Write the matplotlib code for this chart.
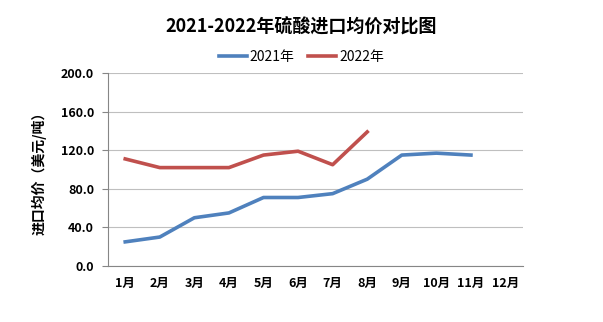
import matplotlib
matplotlib.use('Agg')
import matplotlib.pyplot as plt
import numpy as np

plt.rcParams['font.family'] = ['Noto Sans CJK SC', 'DejaVu Sans']

months = ['1月', '2月', '3月', '4月', '5月', '6月', '7月', '8月', '9月', '10月', '11月', '12月']
price_2021 = [25, 30, 50, 55, 71, 71, 75, 90, 115, 117, 115]
price_2022 = [111, 102, 102, 102, 115, 119, 105, 139]
yticks = [0, 40, 80, 120, 160, 200]

fig = plt.figure(figsize=(6.03, 3.22), dpi=100)
ax = fig.add_axes([0.179, 0.174, 0.688, 0.599])

x = np.arange(len(months))
ax.plot(x[:len(price_2021)], price_2021, color='#4f81bd', lw=2.6, label='2021年')
ax.plot(x[:len(price_2022)], price_2022, color='#c0504d', lw=2.6, label='2022年')

ax.set_xlim(-0.5, len(months) - 0.5)
ax.set_ylim(0, 200)
ax.set_xticks(x)
ax.set_xticklabels(months, fontsize=9, fontweight='bold')
ax.set_yticks(yticks)
ax.set_yticklabels(['%.1f' % v for v in yticks], fontsize=9, fontweight='bold')
ax.tick_params(axis='x', length=0, pad=8)
ax.tick_params(axis='y', length=4, color='#868686', pad=6)
ax.grid(axis='y', color='#bfbfbf', lw=0.8)
ax.set_axisbelow(True)
for s in ['top', 'right']:
   ax.spines[s].set_visible(False)
for s in ['left', 'bottom']:
   ax.spines[s].set_color('#868686')
   ax.spines[s].set_linewidth(0.8)

ax.set_ylabel('进口均价（美元/吨）', fontsize=10, fontweight='bold', labelpad=10)
fig.text(0.5, 0.915, '2021-2022年硫酸进口均价对比图', ha='center', va='center',
         fontsize=13, fontweight='bold')
fig.legend(loc='center', bbox_to_anchor=(0.5, 0.823), ncol=2, frameon=False,
           fontsize=10, handlelength=2, columnspacing=1.0, handletextpad=0.2)

plt.savefig('out.png', dpi=100)
